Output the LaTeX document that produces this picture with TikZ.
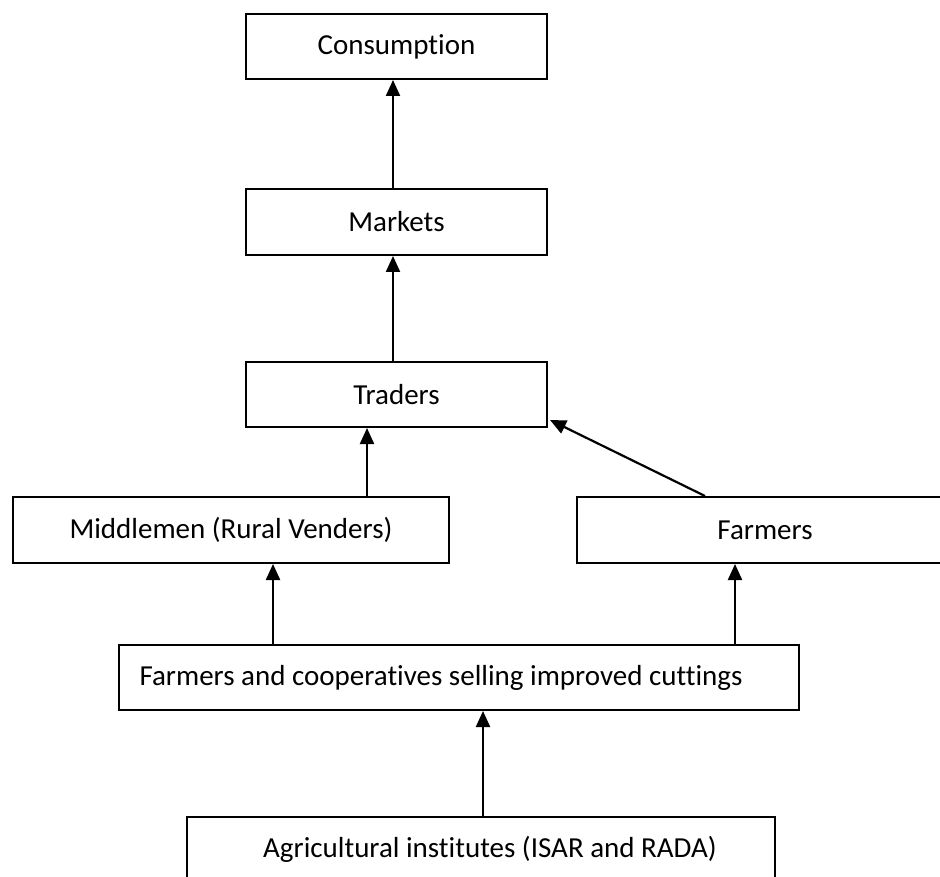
\documentclass[tikz,border=0pt]{standalone}
\usepackage{fontspec}
\setmainfont{Carlito}[Ligatures=NoCommon,RawFeature={-liga;-clig;-dlig}]
\usetikzlibrary{arrows.meta}
\begin{document}
\begin{tikzpicture}[x=1pt,y=-1pt,
  box/.style={draw,line width=2pt,minimum height=65pt,inner sep=0pt,font=\fontsize{29}{34}\selectfont},
  arr/.style={line width=2.2pt,-{Triangle[length=16pt,width=14pt]}}]
\useasboundingbox (0,0) rectangle (940,877);
\clip (0,0) rectangle (940,877);
\node[box,minimum width=301pt] (cons) at (396.5,46.5) {Consumption};
\node[box,minimum width=301pt,minimum height=66pt] (mark) at (396.5,222) {Markets};
\node[box,minimum width=301pt] (trad) at (396.5,394.5) {Traders};
\node[box,minimum width=436pt,minimum height=66pt] (midd) at (231,530) {Middlemen (Rural Venders)};
\node[box,minimum width=376pt,minimum height=66pt] (farm) at (765,530) {Farmers};
\node[box,minimum width=680pt] (coop) at (459,677.5) {Farmers and cooperatives selling improved cuttings\hspace*{36pt}};
\node[box,minimum width=588pt] (agri) at (481,849.5) {\hspace*{18pt}Agricultural institutes (ISAR and RADA)};
\draw[arr] ([xshift=-3.5pt]mark.north) -- ([xshift=-3.5pt]cons.south);
\draw[arr] ([xshift=-3.5pt]trad.north) -- ([xshift=-3.5pt]mark.south);
\draw[arr] ([xshift=136pt]midd.north) -- ([xshift=-29.5pt]trad.south);
\draw[arr] ([xshift=-60pt]farm.north) -- ([xshift=2pt,yshift=8pt]trad.south east);
\draw[arr] ([xshift=-186pt]coop.north) -- ([xshift=42pt]midd.south);
\draw[arr] ([xshift=276pt]coop.north) -- ([xshift=-30pt]farm.south);
\draw[arr] ([xshift=2pt]agri.north) -- ([xshift=24pt]coop.south);
\end{tikzpicture}
\end{document}
